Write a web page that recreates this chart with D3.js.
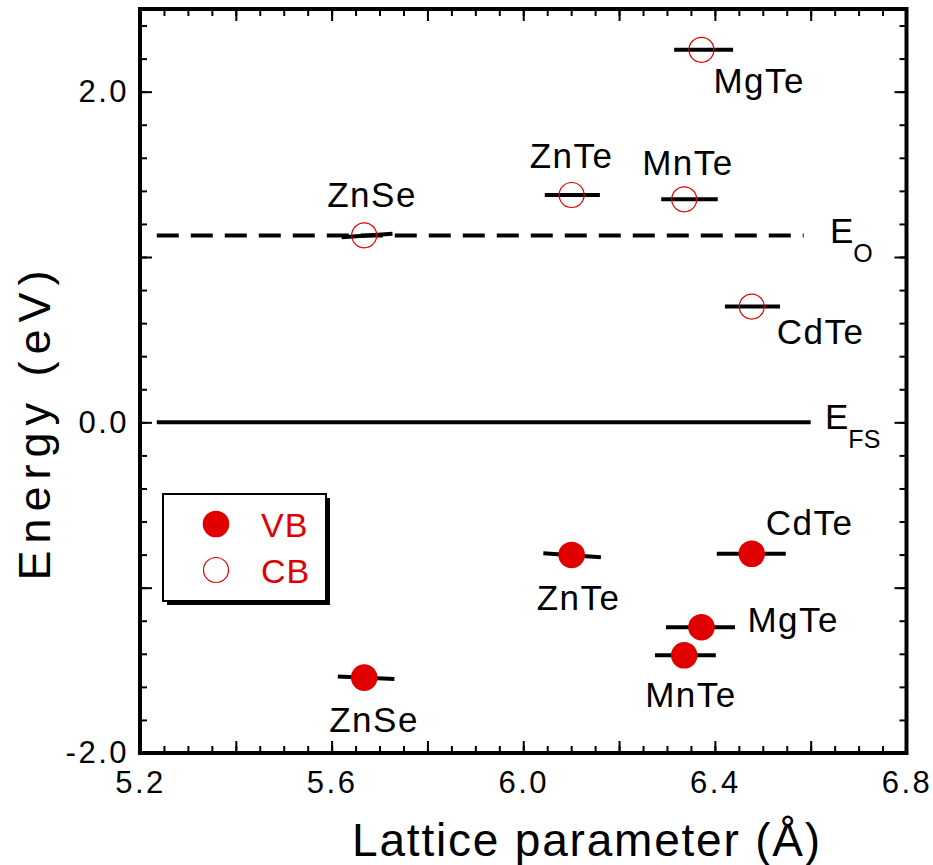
<!DOCTYPE html>
<meta charset="utf-8">
<style>
body { margin: 0; background: #fff; }
text { font-family: "Liberation Sans", Arial, sans-serif; fill: #000; }
.tick line { stroke: #000; stroke-width: 2px; }
.tick text { font-size: 31px; letter-spacing: 2.5px; }
</style>
<svg width="933" height="865"></svg>
<script src="https://d3js.org/d3.v7.min.js"></script>
<script>

// data
var materials = ["ZnSe", "ZnTe", "MnTe", "MgTe", "CdTe"];
var lattice   = [5.668, 6.101, 6.336, 6.372, 6.477];
var cbEnergy  = [1.131, 1.375, 1.349, 2.253, 0.700];
var vbEnergy  = [-1.544, -0.802, -1.409, -1.239, -0.795];
// bar ends [x1, y1, x2, y2]
var cbBars = [[5.621, 1.120, 5.727, 1.140], [6.045, 1.375, 6.160, 1.375], [6.288, 1.349, 6.406, 1.349],
              [6.315, 2.253, 6.438, 2.253], [6.421, 0.700, 6.536, 0.700]];
var vbBars = [[5.613, -1.538, 5.731, -1.553], [6.042, -0.792, 6.162, -0.816], [6.275, -1.409, 6.402, -1.409],
              [6.298, -1.239, 6.442, -1.239], [6.404, -0.795, 6.548, -0.795]];
var levelNames  = ["O", "FS"];
var levelValues = [1.13, 0.0];
var levelRange  = [5.235, 6.6];
var xTicks = [5.2, 5.6, 6.0, 6.4, 6.8];
var yTicks = [-2.0, 0.0, 2.0];

// label placement, px from the marker centre
var cbLabelOff = [[-37, -28], [-42, -27], [-42, -24], [12, 43], [25, 37]];
var vbLabelOff = [[-35, 54], [-35, 55], [-39, 52], [46, 5], [14, -19]];

var svg = d3.select("svg");
var red = "#e00000";
var pLeft = 140, pRight = 906.5, pTop = 9, pBottom = 753;

var x = d3.scaleLinear().domain([5.2, 6.8]).range([pLeft, pRight]);
var y = d3.scaleLinear().domain([-2, 2.5]).range([pBottom, pTop]);

function fmt(list) {
  return function(d) {
    return list.some(function(t) { return Math.abs(t - d) < 1e-6; }) ? d.toFixed(1) : "";
  };
}

var xMinor = d3.range(5.2, 6.8001, 0.05), xMajor = d3.range(5.2, 6.8001, 0.2);
var yMinor = d3.range(-2, 2.5001, 0.2),  yMajor = d3.range(-2, 2.5001, 1.0);

function addAxis(axisFn, scale, pos, minor, major, labels, isX) {
  var tr = isX ? "translate(0," + pos + ")" : "translate(" + pos + ",0)";
  svg.append("g").attr("transform", tr)
      .call(axisFn(scale).tickValues(minor).tickSize(-7).tickFormat(""))
      .call(function(g) { g.select(".domain").remove(); });
  var g = svg.append("g").attr("transform", tr)
      .call(axisFn(scale).tickValues(major).tickSize(-12).tickPadding(labels ? 14 : 0)
            .tickFormat(labels ? fmt(labels) : ""));
  g.select(".domain").remove();
  return g;
}

addAxis(d3.axisBottom, x, pBottom, xMinor, xMajor, xTicks, true)
  .selectAll("text").attr("dy", "0.85em");
addAxis(d3.axisTop, x, pTop, xMinor, xMajor, null, true);
addAxis(d3.axisLeft, y, pLeft, yMinor, yMajor, yTicks, false)
  .selectAll("text").attr("dx", "3px");
addAxis(d3.axisRight, y, pRight, yMinor, yMajor, null, false);

svg.append("rect")
    .attr("x", pLeft).attr("y", pTop)
    .attr("width", pRight - pLeft).attr("height", pBottom - pTop)
    .attr("fill", "none").attr("stroke", "#000").attr("stroke-width", 4);

// reference levels
svg.append("g").selectAll("line").data(levelValues).enter().append("line")
    .attr("x1", x(levelRange[0])).attr("x2", function(d, i) { return x(levelRange[1]) - (i === 0 ? 7 : 0); })
    .attr("y1", function(d) { return y(d); }).attr("y2", function(d) { return y(d); })
    .attr("stroke", "#000").attr("stroke-width", 4)
    .attr("stroke-dasharray", function(d, i) { return i === 0 ? "22,12" : null; });

var lvl = svg.append("g").selectAll("text").data(levelValues).enter().append("text")
    .attr("x", function(d, i) { return i === 0 ? 830 : 825; })
    .attr("y", function(d) { return y(d) + 7; })
    .style("font-size", "35px");
lvl.append("tspan").text("E");
lvl.append("tspan").attr("dy", 19).style("font-size", "25px")
    .text(function(d, i) { return levelNames[i]; });

// bars
function drawBars(bars) {
  svg.append("g").selectAll("line").data(bars).enter().append("line")
      .attr("x1", function(d) { return x(d[0]); }).attr("y1", function(d) { return y(d[1]); })
      .attr("x2", function(d) { return x(d[2]); }).attr("y2", function(d) { return y(d[3]); })
      .attr("stroke", "#000").attr("stroke-width", 4);
}
drawBars(cbBars);
drawBars(vbBars);

// markers
svg.append("g").selectAll("circle").data(lattice).enter().append("circle")
    .attr("cx", function(d) { return x(d); })
    .attr("cy", function(d, i) { return y(cbEnergy[i]); })
    .attr("r", 12.5).attr("fill", "none").attr("stroke", red).attr("stroke-width", 1.2);

svg.append("g").selectAll("circle").data(lattice).enter().append("circle")
    .attr("cx", function(d) { return x(d); })
    .attr("cy", function(d, i) { return y(vbEnergy[i]); })
    .attr("r", 13.3).attr("fill", red);

// compound labels
function drawLabels(energy, off) {
  svg.append("g").selectAll("text").data(materials).enter().append("text")
      .attr("x", function(d, i) { return x(lattice[i]) + off[i][0]; })
      .attr("y", function(d, i) { return y(energy[i]) + off[i][1]; })
      .style("font-size", "35px").style("letter-spacing", "1.5px")
      .text(function(d) { return d; });
}
drawLabels(cbEnergy, cbLabelOff);
drawLabels(vbEnergy, vbLabelOff);

// legend
var lg = svg.append("g");
lg.append("rect").attr("x", 167).attr("y", 498).attr("width", 163).attr("height", 107).attr("fill", "#000");
lg.append("rect").attr("x", 163).attr("y", 494).attr("width", 163).attr("height", 107)
    .attr("fill", "#fff").attr("stroke", "#000").attr("stroke-width", 2);
lg.append("circle").attr("cx", 216).attr("cy", 524).attr("r", 13.3).attr("fill", red);
lg.append("circle").attr("cx", 216).attr("cy", 570).attr("r", 12.5)
    .attr("fill", "none").attr("stroke", red).attr("stroke-width", 1.2);
lg.append("text").attr("x", 261).attr("y", 537).style("font-size", "34px").style("letter-spacing", "1px")
    .style("fill", red).text("VB");
lg.append("text").attr("x", 261).attr("y", 583).style("font-size", "34px").style("letter-spacing", "1px")
    .style("fill", red).text("CB");

// axis titles
svg.append("text").attr("x", 587).attr("y", 856).attr("text-anchor", "middle")
    .style("font-size", "46px").style("letter-spacing", "1.8px")
    .text("Lattice parameter (Å)");
svg.append("text").attr("transform", "translate(50,422) rotate(-90)").attr("text-anchor", "middle")
    .style("font-size", "45px").style("letter-spacing", "7px")
    .text("Energy (eV)");

</script>
